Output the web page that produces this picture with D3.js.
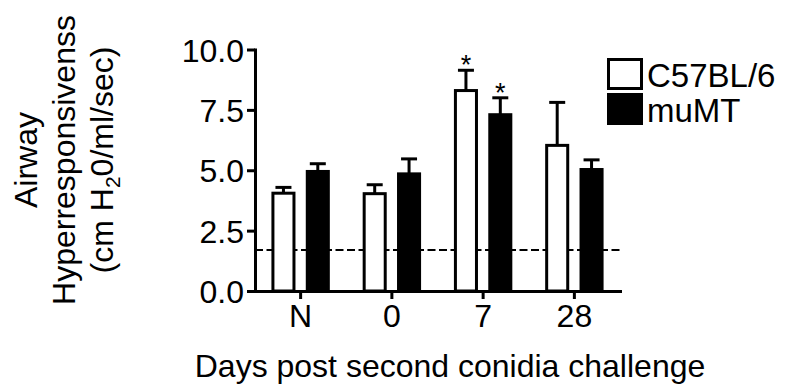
<!DOCTYPE html>
<html>
<head>
<meta charset="utf-8">
<script src="https://cdn.jsdelivr.net/npm/d3@7"></script>
<style>
  body { margin: 0; background: #fff; }
  text { font-family: "Liberation Sans", Arial, sans-serif; fill: #000; }
</style>
</head>
<body>
<svg id="chart" width="785" height="384"></svg>
<script>
// data
const days = ["N", "0", "7", "28"];
const strains = ["C57BL/6", "muMT"];
const c57Means = [4.05, 4.03, 8.30, 6.03];
const c57Upper = [4.29, 4.40, 9.14, 7.81];
const mumtMeans = [4.95, 4.85, 7.30, 5.03];
const mumtUpper = [5.27, 5.47, 8.00, 5.43];
const c57Sig = [false, false, true, false];
const mumtSig = [false, false, true, false];
const yTicks = [0, 2.5, 5, 7.5, 10];
const baseline = 1.7;

const series = [
    {name: strains[0], means: c57Means, upper: c57Upper, sig: c57Sig, fill: "#fff"},
    {name: strains[1], means: mumtMeans, upper: mumtUpper, sig: mumtSig, fill: "#000"}
];

let svg = d3.select("#chart");
let plot = {left: 255, right: 620, top: 49.5, bottom: 291};

let x = d3.scaleBand().domain(days).range([plot.left, plot.right]).padding(0);
let xSub = d3.scaleBand().domain(strains)
    .range([x.bandwidth() * 0.18, x.bandwidth() * 0.82])
    .paddingInner(0.3);
let y = d3.scaleLinear().domain([0, 10]).range([plot.bottom, plot.top]);

// baseline dashed line
svg.append("line")
    .attr("x1", plot.left).attr("x2", plot.right)
    .attr("y1", y(baseline)).attr("y2", y(baseline))
    .attr("stroke", "#000")
    .attr("stroke-width", 2)
    .attr("stroke-dasharray", "8,3.5");

for (let s of series) {
    let g = svg.append("g");
    let rows = days.map((d, i) => ({day: d, mean: s.means[i], up: s.upper[i], sig: s.sig[i]}));
    let cx = d => x(d.day) + xSub(s.name) + xSub.bandwidth() / 2;

    // error bars (upper only)
    g.selectAll(".err").data(rows).enter().append("line")
        .attr("x1", cx).attr("x2", cx)
        .attr("y1", d => y(d.mean)).attr("y2", d => y(d.up))
        .attr("stroke", "#000").attr("stroke-width", 3);
    g.selectAll(".cap").data(rows).enter().append("line")
        .attr("x1", d => cx(d) - 8).attr("x2", d => cx(d) + 8)
        .attr("y1", d => y(d.up)).attr("y2", d => y(d.up))
        .attr("stroke", "#000").attr("stroke-width", 3);

    g.selectAll("rect").data(rows).enter().append("rect")
        .attr("x", d => x(d.day) + xSub(s.name) + 1.5)
        .attr("width", xSub.bandwidth() - 3)
        .attr("y", d => y(d.mean))
        .attr("height", d => y(0) - y(d.mean))
        .attr("fill", s.fill)
        .attr("stroke", "#000")
        .attr("stroke-width", 3);

    g.selectAll(".star").data(rows.filter(d => d.sig)).enter().append("text")
        .attr("x", cx)
        .attr("y", d => y(d.up) + 4)
        .attr("text-anchor", "middle")
        .style("font-size", "27px")
        .text("*");
}

// axes
let yAxis = svg.append("g")
    .attr("transform", "translate(" + plot.left + ",0)")
    .call(d3.axisLeft(y).tickValues(yTicks).tickFormat(d3.format(".1f")).tickSize(8).tickSizeOuter(0).tickPadding(3));
let xAxis = svg.append("g")
    .attr("transform", "translate(0," + plot.bottom + ")")
    .call(d3.axisBottom(x).tickSize(8).tickSizeOuter(0).tickPadding(5));

for (let ax of [yAxis, xAxis]) {
    ax.select(".domain").attr("stroke-width", 3).attr("stroke-linecap", "square");
    ax.selectAll(".tick line").attr("stroke-width", 3);
    ax.selectAll("text").style("font-size", "32px").attr("font-family", null);
}
yAxis.selectAll("text").attr("dy", "0.36em");

// axis titles
svg.append("text")
    .attr("x", 450).attr("y", 377)
    .attr("text-anchor", "middle")
    .style("font-size", "32px")
    .text("Days post second conidia challenge");

let yTitle = svg.append("text")
    .attr("transform", "translate(0,160) rotate(-90)")
    .attr("text-anchor", "middle")
    .style("font-size", "32px");
yTitle.append("tspan").attr("x", 0).attr("y", 36.5).text("Airway");
yTitle.append("tspan").attr("x", 0).attr("y", 74.5).text("Hyperresponsivenss");
let line3 = svg.append("text")
    .attr("transform", "translate(0,160) rotate(-90)")
    .attr("text-anchor", "middle")
    .attr("y", 113)
    .style("font-size", "32px");
line3.append("tspan").text("(cm H");
line3.append("tspan").attr("dy", 7).style("font-size", "21px").text("2");
line3.append("tspan").attr("dy", -7).text("0/ml/sec)");

// legend
let legend = svg.append("g").attr("transform", "translate(607,58)");
series.forEach((s, i) => {
    legend.append("rect")
        .attr("x", 1.5).attr("y", i * 35 + 1.5)
        .attr("width", 33).attr("height", 29)
        .attr("fill", s.fill).attr("stroke", "#000").attr("stroke-width", 3);
    legend.append("text")
        .attr("x", 40).attr("y", i * 35 + 29)
        .style("font-size", "33px")
        .text(s.name);
});
</script>
</body>
</html>
